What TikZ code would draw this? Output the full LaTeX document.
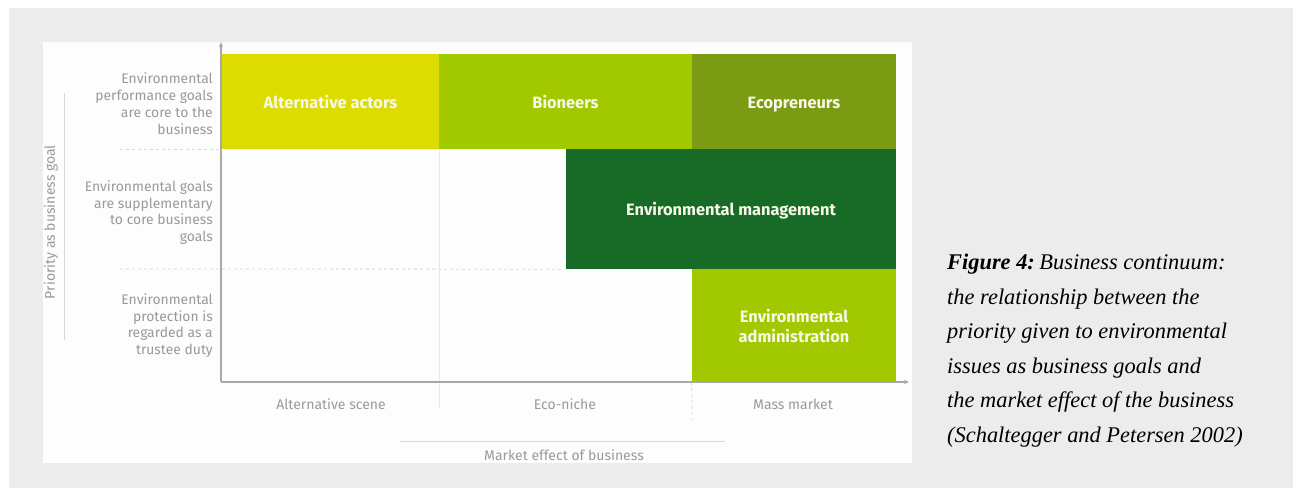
\documentclass[tikz,border=0pt]{standalone}
\usepackage{fontspec}
\setmainfont{Liberation Serif}
\newfontfamily\chartfont{Fira Sans}
\usetikzlibrary{arrows.meta}
\definecolor{bggrey}{HTML}{ECECEC}
\definecolor{panelwhite}{HTML}{FDFDFD}
\definecolor{axisgrey}{HTML}{A8A8A8}
\definecolor{labelgrey}{HTML}{9A9A9A}
\definecolor{faintgrey}{HTML}{D8D8D8}
\definecolor{cAlt}{HTML}{DCDC00}
\definecolor{cBio}{HTML}{A2C800}
\definecolor{cEco}{HTML}{7B9B12}
\definecolor{cMan}{HTML}{186B27}
\definecolor{cAdm}{HTML}{A2C800}
\definecolor{blocktext}{HTML}{F8F8E8}
\tikzset{
  blockbox/.style={inner sep=0pt, text=blocktext, font=\chartfont\fontsize{16.4}{20}\selectfont\bfseries, align=center},
  oneline/.style={text height=14pt, text depth=1pt},
  rowlabel/.style={anchor=east, inner sep=0pt, text=labelgrey, font=\chartfont\fontsize{13.9}{16.8}\selectfont, align=right},
  collabel/.style={inner sep=0pt, text=labelgrey, font=\chartfont\fontsize{14}{16}\selectfont},
  axisline/.style={draw=axisgrey, line width=1.2pt},
  sepline/.style={draw=faintgrey, line width=0.8pt, dash pattern=on 3pt off 3pt},
  faintline/.style={draw=faintgrey!60, line width=0.8pt},
}
\begin{document}
\begin{tikzpicture}[x=1pt,y=-1pt]
\useasboundingbox (0,0) rectangle (1293,488);
\fill[white] (0,0) rectangle (1293,488);
\fill[bggrey] (9,8) rectangle (1293,488);
\fill[panelwhite] (43,42) rectangle (912,463);

% blocks
\node[blockbox, oneline, fill=cAlt, minimum width=217pt, minimum height=95pt] (alt) at (330.5,101.5) {Alternative actors};
\node[blockbox, oneline, fill=cBio, minimum width=253pt, minimum height=95pt] (bio) at (565.5,101.5) {Bioneers};
\node[blockbox, oneline, fill=cEco, minimum width=204pt, minimum height=95pt] (eco) at (794,101.5) {Ecopreneurs};
\node[blockbox, oneline, fill=cMan, minimum width=330pt, minimum height=120pt] (man) at (731,209) {Environmental management};
\node[blockbox, fill=cAdm, minimum width=204pt, minimum height=113pt] (adm) at (794,325.5) {Environmental\\administration};

% separators
\coordinate (s1a) at (120,149); \coordinate (s1b) at (218,149);
\draw[sepline] (s1a) -- (s1b);
\coordinate (s2a) at (120,269);
\draw[sepline] (s2a) -- (man.south west);
\coordinate (v1a) at (439,150); \coordinate (v1b) at (439,408);
\draw[faintline] (v1a) -- (v1b);
\coordinate (v2b) at (692,420);
\draw[sepline] (adm.south west) -- (v2b);

% axes
\coordinate (origin) at (221,382);
\coordinate (ytop) at (221,42);
\coordinate (xend) at (909,382);
\draw[axisline, -{Stealth[length=5pt,width=4pt]}] (origin) -- (ytop);
\draw[axisline, -{Stealth[length=5pt,width=4pt]}] (origin) -- (xend);

% row labels
\node[rowlabel] (r1) at (213,103.5) {Environmental\\performance goals\\are core to the\\business};
\node[rowlabel] (r2) at (213,212.5) {Environmental goals\\are supplementary\\to core business\\goals};
\node[rowlabel] (r3) at (213,325.5) {Environmental\\protection is\\regarded as a\\trustee duty};

% column labels
\node[collabel] (c1) at (331,404) {Alternative scene};
\node[collabel] (c2) at (565,404) {Eco-niche};
\node[collabel] (c3) at (793,404) {Mass market};

% priority axis
\coordinate (pa) at (64,93); \coordinate (pb) at (64,340);
\draw[faintline, draw=faintgrey] (pa) -- (pb);
\node[collabel, rotate=90] (prio) at (51,222) {Priority as business goal};

% market effect axis
\coordinate (ma) at (400,441); \coordinate (mb) at (725,441);
\draw[faintline, draw=faintgrey] (ma) -- (mb);
\node[collabel] (market) at (564,455) {Market effect of business};

% caption
\node[anchor=base west, inner sep=0pt, align=left, font=\fontsize{22.4}{34.5}\selectfont\itshape] (cap) at (947,442)
{\textbf{Figure 4:}\hspace{0.2em}Business continuum:\\the relationship between the\\priority given to environmental\\issues as business goals and\\the market effect of the business\\(Schaltegger and Petersen 2002)};
\end{tikzpicture}
\end{document}
